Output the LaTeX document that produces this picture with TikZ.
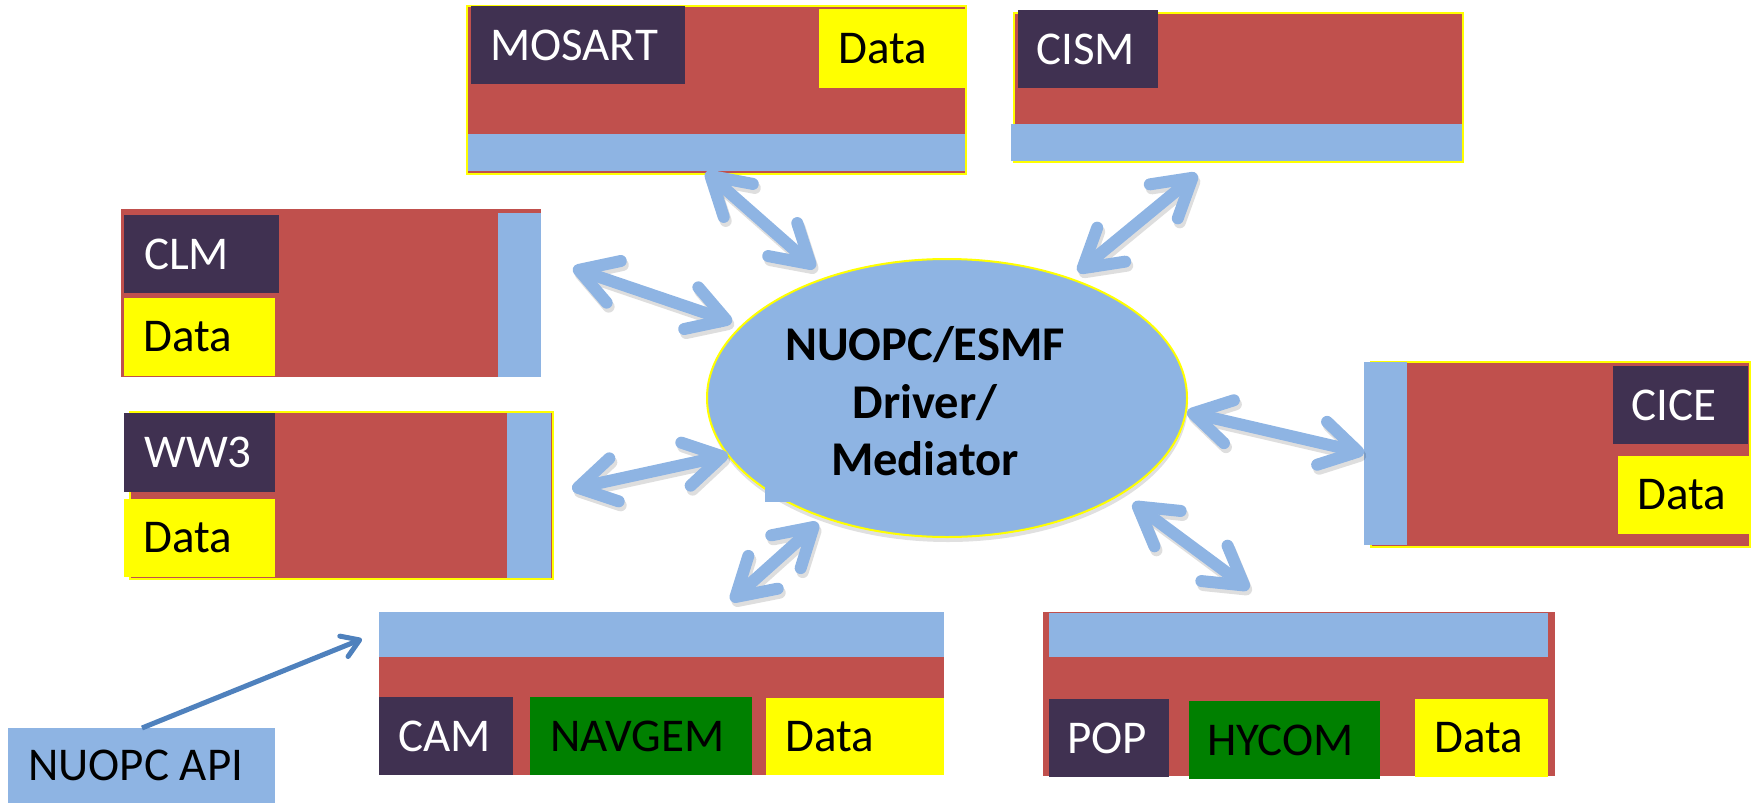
\documentclass[tikz,border=0pt]{standalone}
\usepackage{fontspec}
\setmainfont{Carlito}
\usetikzlibrary{arrows.meta,shapes.geometric}
\definecolor{cred}{HTML}{C0504D}
\definecolor{cpurple}{HTML}{403151}
\definecolor{cblue}{HTML}{8EB4E3}
\definecolor{cgreen}{HTML}{008000}
\definecolor{cyellow}{HTML}{FFFF00}
\definecolor{carrow}{HTML}{4F81BD}
\tikzset{
  blk/.style={inner sep=0pt, outer sep=0pt, anchor=north west},
  redbox/.style={blk, fill=cred},
  ybord/.style={draw=cyellow, line width=2pt},
  strip/.style={blk, fill=cblue},
  labbox/.style={blk, fill=cpurple},
  databox/.style={blk, fill=cyellow},
  greenbox/.style={blk, fill=cgreen},
  apibox/.style={blk, fill=cblue},
  wtxt/.style={text=white, font=\fontsize{47}{54}\selectfont, anchor=west, inner sep=0pt},
  btxt/.style={text=black, font=\fontsize{47}{54}\selectfont, anchor=west, inner sep=0pt},
  medtxt/.style={text=black, font=\bfseries\fontsize{48.5}{56}\selectfont, anchor=base, inner sep=0pt},
  barb/.tip={Straight Barb[length=37pt,width=44pt,round]},
  dbl/.style={line width=12pt, draw=cblue, arrows={barb-barb}},
  dblshadow/.style={line width=12pt, draw=black, opacity=0.13, arrows={barb-barb}},
  apiarrow/.style={line width=5pt, draw=carrow, arrows={-{Straight Barb[length=17pt,width=22pt,round]}}}
}
\begin{document}
\begin{tikzpicture}[x=1pt,y=-1pt]
\useasboundingbox (0,0) rectangle (1754,803);

% MOSART
\node[redbox, ybord, minimum width=499pt, minimum height=168pt] (mosart) at (467,6) {};
\node[strip, minimum width=497pt, minimum height=37pt] (mosartstrip) at (468,134) {};
\node[labbox, minimum width=214pt, minimum height=78pt] (mosartlab) at (471,6) {};
\node[wtxt] (mosarttxt) at ([xshift=19pt]mosartlab.west) {MOSART};
\node[databox, minimum width=147pt, minimum height=79pt] (mosartdata) at (819,9) {};
\node[btxt] (mosartdatatxt) at ([xshift=19pt]mosartdata.west) {Data};

% CISM
\node[redbox, ybord, minimum width=449pt, minimum height=149pt] (cism) at (1014,13) {};
\node[strip, minimum width=451pt, minimum height=37pt] (cismstrip) at (1011,124) {};
\node[labbox, minimum width=140pt, minimum height=78pt] (cismlab) at (1018,10) {};
\node[wtxt] (cismtxt) at ([xshift=18pt]cismlab.west) {CISM};

% CLM
\node[redbox, minimum width=420pt, minimum height=168pt] (clm) at (121,209) {};
\node[labbox, minimum width=155pt, minimum height=78pt] (clmlab) at (124,215) {};
\node[wtxt] (clmtxt) at ([xshift=20pt]clmlab.west) {CLM};
\node[databox, minimum width=151pt, minimum height=78pt] (clmdata) at (124,298) {};
\node[btxt] (clmdatatxt) at ([xshift=19pt]clmdata.west) {Data};
\node[strip, minimum width=43pt, minimum height=164pt] (clmstrip) at (498,213) {};

% WW3
\node[redbox, ybord, minimum width=423pt, minimum height=167pt] (ww3) at (130,412) {};
\node[labbox, minimum width=151pt, minimum height=79pt] (ww3lab) at (124,413) {};
\node[wtxt] (ww3txt) at ([xshift=20pt]ww3lab.west) {WW3};
\node[databox, minimum width=151pt, minimum height=78pt] (ww3data) at (124,499) {};
\node[btxt] (ww3datatxt) at ([xshift=19pt]ww3data.west) {Data};
\node[strip, minimum width=44pt, minimum height=165pt] (ww3strip) at (507,413) {};

% CICE
\node[redbox, ybord, minimum width=379pt, minimum height=185pt] (cice) at (1371,362) {};
\node[strip, minimum width=43pt, minimum height=183pt] (cicestrip) at (1364,362) {};
\node[labbox, minimum width=135pt, minimum height=78pt] (cicelab) at (1613,366) {};
\node[wtxt] (cicetxt) at ([xshift=18pt]cicelab.west) {CICE};
\node[databox, minimum width=132pt, minimum height=78pt] (cicedata) at (1618,456) {};
\node[btxt] (cicedatatxt) at ([xshift=19pt]cicedata.west) {Data};

% CAM
\node[redbox, minimum width=565pt, minimum height=163pt] (cam) at (379,612) {};
\node[strip, minimum width=565pt, minimum height=45pt] (camstrip) at (379,612) {};
\node[labbox, minimum width=134pt, minimum height=78pt] (camlab) at (379,697) {};
\node[wtxt] (camtxt) at ([xshift=19pt]camlab.west) {CAM};
\node[greenbox, minimum width=222pt, minimum height=78pt] (navgem) at (530,697) {};
\node[btxt] (navgemtxt) at ([xshift=20pt]navgem.west) {NAVGEM};
\node[databox, minimum width=178pt, minimum height=77pt] (camdata) at (766,698) {};
\node[btxt] (camdatatxt) at ([xshift=19pt]camdata.west) {Data};

% POP
\node[redbox, minimum width=512pt, minimum height=164pt] (pop) at (1043,612) {};
\node[strip, minimum width=499pt, minimum height=44pt] (popstrip) at (1049,613) {};
\node[labbox, minimum width=120pt, minimum height=78pt] (poplab) at (1049,699) {};
\node[wtxt] (poptxt) at ([xshift=18pt]poplab.west) {POP};
\node[greenbox, minimum width=191pt, minimum height=78pt] (hycom) at (1189,701) {};
\node[btxt] (hycomtxt) at ([xshift=18pt]hycom.west) {HYCOM};
\node[databox, minimum width=133pt, minimum height=78pt] (popdata) at (1415,699) {};
\node[btxt] (popdatatxt) at ([xshift=19pt]popdata.west) {Data};

% NUOPC API
\node[apibox, minimum width=267pt, minimum height=75pt] (api) at (8,728) {};
\node[btxt] (apitxt) at ([xshift=20pt]api.west) {NUOPC API};

% Mediator ellipse
\node[ellipse, fill=black, opacity=0.12, inner sep=0pt, minimum width=480pt, minimum height=278pt] (medshadow) at (948,403) {};
\node[ellipse, fill=cblue, ybord, inner sep=0pt, minimum width=480pt, minimum height=278pt] (med) at (947,398) {};
\fill[cblue] (765,483) rectangle (792,502);
\node[medtxt] (medl1) at (925,360) {NUOPC/ESMF};
\node[medtxt] (medl2) at (925,418) {Driver/};
\node[medtxt] (medl3) at (925,475) {Mediator};

% arrow end points
\coordinate (a1s) at (706,172); \coordinate (a1e) at (815,268);
\coordinate (a2s) at (573,268); \coordinate (a2e) at (732,322);
\coordinate (a3s) at (1197,174); \coordinate (a3e) at (1078,272);
\coordinate (a4s) at (572,489); \coordinate (a4e) at (728,455);
\coordinate (a5s) at (731,601); \coordinate (a5e) at (818,523);
\coordinate (a6s) at (1133,503); \coordinate (a6e) at (1249,589);
\coordinate (a7s) at (1187,412); \coordinate (a7e) at (1364,453);
\coordinate (apis) at (142,728); \coordinate (apie) at (362,639);

\foreach \s/\e in {a1s/a1e,a2s/a2e,a3s/a3e,a4s/a4e,a5s/a5e,a6s/a6e,a7s/a7e}{
  \draw[dblshadow] ([shift={(2,4)}]\s) -- ([shift={(2,4)}]\e);
}
\foreach \s/\e in {a1s/a1e,a2s/a2e,a3s/a3e,a4s/a4e,a5s/a5e,a6s/a6e,a7s/a7e}{
  \draw[dbl] (\s) -- (\e);
}
\draw[apiarrow] (apis) -- (apie);
\end{tikzpicture}
\end{document}
